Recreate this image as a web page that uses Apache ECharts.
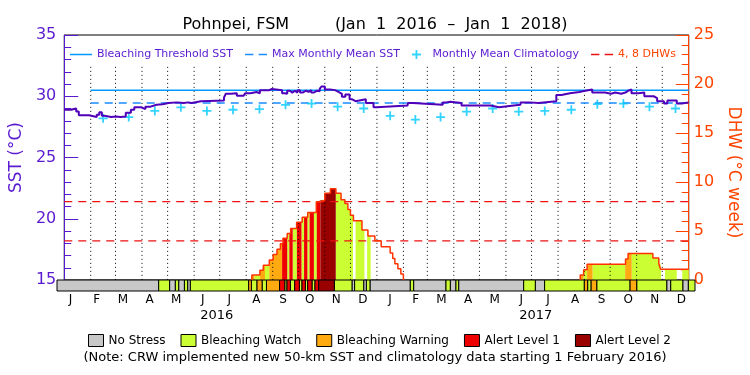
<!DOCTYPE html>
<html lang="en">
<head>
<meta charset="UTF-8">
<title>Pohnpei, FSM</title>
<script src="https://cdn.jsdelivr.net/npm/echarts@6/dist/echarts.min.js"></script>
<style>
  html, body { margin: 0; padding: 0; background: #fff; }
  #chart { width: 750px; height: 375px; }
</style>
</head>
<body>
<div id="chart"></div>
<script>
// x values are days counted from Jan 1 2016
var monthStarts = [0, 31, 60, 91, 121, 152, 182, 213, 244, 274, 305, 335, 366, 397, 425, 456, 486, 517, 547, 578, 609, 639, 670, 700, 731];
var monthLetters = ['J','F','M','A','M','J','J','A','S','O','N','D','J','F','M','A','M','J','J','A','S','O','N','D'];
var yearLabels = ['2016', '2017'];

// daily SST (step changes)
var sstDays = [0, 8, 14, 17, 29, 38, 41, 44, 47, 55, 60, 66, 72, 78, 82, 90, 92, 95, 101, 108, 115, 122, 132, 140, 145, 149, 151, 160, 187, 189, 195, 202, 210, 212, 218, 225, 229, 240, 243, 245, 255, 258, 261, 264, 267, 270, 273, 276, 279, 283, 286, 289, 292, 296, 299, 301, 305, 311, 317, 321, 325, 329, 334, 337, 341, 353, 362, 366, 402, 408, 443, 447, 452, 465, 499, 509, 526, 534, 545, 555, 576, 582, 592, 603, 607, 618, 633, 640, 645, 652, 657, 660, 664, 672, 679, 690, 694, 702, 706, 717, 723, 731];
var sstValues = [28.9, 29.0, 28.75, 28.45, 28.3, 28.5, 28.7, 28.4, 28.3, 28.35, 28.3, 28.35, 28.65, 28.9, 29.1, 29.15, 28.95, 29.15, 29.3, 29.35, 29.45, 29.5, 29.45, 29.5, 29.45, 29.3, 29.6, 29.65, 29.9, 30.2, 30.25, 30.05, 30.1, 30.25, 30.35, 30.25, 30.5, 30.6, 30.65, 30.5, 30.25, 30.2, 30.45, 30.3, 30.45, 30.3, 30.5, 30.3, 30.45, 30.35, 30.5, 30.3, 30.45, 30.4, 30.6, 30.8, 30.55, 30.5, 30.35, 30.2, 29.95, 30.15, 29.75, 29.6, 29.75, 29.45, 29.1, 29.25, 29.45, 29.3, 29.5, 29.55, 29.45, 29.25, 29.1, 29.25, 29.3, 29.5, 29.45, 29.6, 30.1, 30.25, 30.35, 30.4, 30.55, 30.3, 30.2, 30.3, 30.2, 30.3, 30.45, 30.55, 30.25, 30.3, 30.0, 29.85, 29.6, 29.4, 29.65, 29.4, 29.5, 29.5];

// monthly mean climatology, Feb 2016 .. Dec 2017
var climValues = [28.2, 28.3, 28.8, 29.1, 28.8, 28.9, 28.95, 29.3, 29.4, 29.15, 29.0, 28.4, 28.1, 28.3, 28.75, 29.0, 28.75, 28.8, 28.9, 29.35, 29.4, 29.15, 29.0];
var mmm = 29.45;
var threshold = 30.48;
var dhwLevels = [4, 8];

// degree heating weeks (step changes)
var dhwDays = [219.6, 229, 233, 240, 244.5, 249, 253, 256, 261, 265, 272, 278.5, 285, 295, 299, 305, 311.5, 318, 324, 328.5, 332, 335, 338.5, 348.5, 355.5, 363.6, 371, 381.5, 384.5, 387, 390.5, 394, 397, 604, 608, 612, 657, 660, 689, 696, 698];
var dhwValues = [0.5, 1.0, 1.5, 2.05, 2.6, 3.15, 3.7, 4.25, 4.75, 5.25, 5.9, 6.4, 6.9, 7.95, 8.15, 8.85, 9.3, 8.85, 8.2, 7.8, 7.2, 6.6, 6.05, 5.1, 4.5, 4.0, 3.4, 2.75, 2.2, 1.65, 1.15, 0.6, 0, 0.5, 1.05, 1.6, 2.15, 2.7, 2.25, 1.65, 1.1];

// bleaching alert status
var statusNames = ['No Stress', 'Bleaching Watch', 'Bleaching Warning', 'Alert Level 1', 'Alert Level 2'];
var statusColors = ['#c8c8c8', '#ccff33', '#ffaa11', '#ee0000', '#990000'];
var statusEdges = [0, 116.5, 129, 135.6, 139.4, 146, 149.7, 152.8, 219.6, 222.7, 229.2, 235, 240, 255, 261, 263.5, 267.4, 272.3, 277.7, 280.7, 284.6, 287.2, 292.2, 295.6, 299.8, 317.8, 338, 341, 351.4, 354.5, 358.6, 404.8, 408.6, 445.7, 450.6, 457.1, 460.2, 534.7, 548, 558.7, 604.2, 608, 612, 618.4, 656.6, 664.2, 698.6, 703.2, 717, 723.4, 731];
var statusLevel = [0,1,0,1,0,1,0,1,2,1,2,1,2,3,1,3,1,3,1,3,1,3,1,3,4,1,0,1,0,1,0,1,0,1,0,1,0,1,0,1,2,1,2,1,2,1,0,1,0,1];

var purple = '#5a1ad0';
var orange = '#ff4400';
var font = 'DejaVu Sans';

var chart = echarts.init(document.getElementById('chart'));

var monthMids = [];
for (var m = 0; m < 24; m++) monthMids.push((monthStarts[m] + monthStarts[m + 1]) / 2);
var yearMids = [(monthStarts[0] + monthStarts[12]) / 2, (monthStarts[12] + monthStarts[24]) / 2];

function dhwAt(d) {
  var v = 0;
  for (var i = 0; i < dhwDays.length; i++) if (dhwDays[i] <= d) v = dhwValues[i];
  return v;
}

var sstData = sstDays.map(function (d, i) { return [d, sstValues[i]]; });
var climData = climValues.map(function (v, i) { return [monthMids[i + 1], v]; });

// split the DHW curve into separate heat-stress episodes
var dhwEpisodes = [];
var cur = null;
for (var i = 0; i < dhwDays.length; i++) {
  if (!cur) {
    cur = [[dhwDays[i], 0]];
    dhwEpisodes.push(cur);
  }
  cur.push([dhwDays[i], dhwValues[i]]);
  if (dhwValues[i] === 0) cur = null;
}
if (cur) cur.push([731, dhwValues[dhwValues.length - 1]]);

var series = [];

statusNames.forEach(function (name, lv) {
  var segs = [];
  for (var i = 0; i < statusLevel.length; i++) {
    if (statusLevel[i] === lv) segs.push([statusEdges[i], statusEdges[i + 1]]);
  }
  // strip under the plot
  series.push({
    name: name,
    type: 'custom',
    xAxisIndex: 1,
    yAxisIndex: 2,
    itemStyle: { color: statusColors[lv] },
    encode: { x: [0, 1] },
    data: segs,
    z: 3,
    renderItem: function (params, api) {
      var p0 = api.coord([api.value(0), 0]);
      var p1 = api.coord([api.value(1), 1]);
      return {
        type: 'rect',
        shape: { x: p0[0], y: p1[1], width: p1[0] - p0[0], height: p0[1] - p1[1] },
        style: { fill: statusColors[lv], stroke: '#000', lineWidth: 1 }
      };
    }
  });
  // fill under the DHW curve
  if (lv > 0) {
    series.push({
      name: name,
      type: 'custom',
      xAxisIndex: 0,
      yAxisIndex: 1,
      itemStyle: { color: statusColors[lv] },
      encode: { x: [0, 1] },
      data: segs,
      z: 1,
      silent: true,
      renderItem: function (params, api) {
        var a = api.value(0), b = api.value(1);
        var v = dhwAt(a);
        var pts = [[a, 0], [a, v]];
        for (var k = 0; k < dhwDays.length; k++) {
          if (dhwDays[k] > a && dhwDays[k] < b) {
            pts.push([dhwDays[k], v]);
            v = dhwValues[k];
            pts.push([dhwDays[k], v]);
          }
        }
        pts.push([b, v]);
        pts.push([b, 0]);
        return {
          type: 'polygon',
          shape: { points: pts.map(function (p) { return api.coord(p); }) },
          style: { fill: statusColors[lv] }
        };
      }
    });
  }
});

// dotted month separators
series.push({
  type: 'custom',
  xAxisIndex: 0,
  yAxisIndex: 0,
  data: monthStarts.slice(1, 24),
  encode: { x: 0 },
  z: 2,
  silent: true,
  renderItem: function (params, api) {
    var top = api.coord([api.value(0), 32.4]);
    var bot = api.coord([api.value(0), 15]);
    return {
      type: 'line',
      shape: { x1: top[0], y1: top[1], x2: bot[0], y2: bot[1] },
      style: { stroke: '#000', lineWidth: 1, lineDash: [1, 3] }
    };
  }
});

dhwLevels.forEach(function (lvl) {
  series.push({
    name: '4, 8 DHWs',
    type: 'line',
    xAxisIndex: 0,
    yAxisIndex: 1,
    color: '#ee1111',
    symbol: 'none',
    z: 4,
    lineStyle: { width: 1.2, type: [8, 6] },
    data: [[0, lvl], [731, lvl]]
  });
});

dhwEpisodes.forEach(function (ep) {
  series.push({
    name: 'DHW',
    type: 'line',
    xAxisIndex: 0,
    yAxisIndex: 1,
    step: 'end',
    color: '#ff3300',
    symbol: 'none',
    z: 5,
    lineStyle: { width: 1.5 },
    data: ep
  });
});

series.push({
  name: 'Bleaching Threshold SST',
  type: 'line',
  xAxisIndex: 0,
  yAxisIndex: 0,
  color: '#0099ff',
  symbol: 'none',
  z: 6,
  lineStyle: { width: 1.5 },
  data: [[monthStarts[1], threshold], [731, threshold]]
});

series.push({
  name: 'Max Monthly Mean SST',
  type: 'line',
  xAxisIndex: 0,
  yAxisIndex: 0,
  color: '#1a8cff',
  symbol: 'none',
  z: 6,
  lineStyle: { width: 1.5, type: [8, 6] },
  data: [[monthStarts[1], mmm], [731, mmm]]
});

series.push({
  name: 'Monthly Mean Climatology',
  type: 'scatter',
  xAxisIndex: 0,
  yAxisIndex: 0,
  color: '#00c8ff',
  symbol: 'path://M4,0h2v4h4v2h-4v4h-2v-4h-4v-2h4z',
  symbolSize: 9,
  z: 7,
  data: climData
});

series.push({
  name: 'SST',
  type: 'line',
  xAxisIndex: 0,
  yAxisIndex: 0,
  step: 'end',
  color: '#5000b8',
  symbol: 'none',
  z: 8,
  lineStyle: { width: 2 },
  data: sstData
});

chart.setOption({
  animation: false,
  textStyle: { fontFamily: font },
  title: [{
    text: 'Pohnpei, FSM         (Jan  1  2016  \u2013  Jan  1  2018)',
    left: 'center',
    top: 12,
    textStyle: { fontSize: 16, fontWeight: 'normal', color: '#000', fontFamily: font }
  }, {
    text: '(Note: CRW implemented new 50-km SST and climatology data starting 1 February 2016)',
    left: 'center',
    top: 346,
    textStyle: { fontSize: 13, fontWeight: 'normal', color: '#000', fontFamily: font }
  }],
  legend: [{
    left: 65,
    top: 44,
    itemWidth: 22,
    itemHeight: 9,
    itemGap: 12,
    selectedMode: false,
    textStyle: { fontSize: 11, color: purple, fontFamily: font },
    data: [
      { name: 'Bleaching Threshold SST', icon: 'path://M0,0h22v1.5h-22z' },
      { name: 'Max Monthly Mean SST', icon: 'path://M0,0h8v1.5h-8z M13,0h8v1.5h-8z' },
      { name: 'Monthly Mean Climatology' },
      { name: '4, 8 DHWs', icon: 'path://M0,0h8v1.5h-8z M13,0h8v1.5h-8z', textStyle: { color: orange } }
    ]
  }, {
    left: 83,
    top: 329,
    itemWidth: 15,
    itemHeight: 12,
    itemGap: 15,
    icon: 'rect',
    selectedMode: false,
    itemStyle: { borderColor: '#000', borderWidth: 1 },
    textStyle: { fontSize: 12, color: '#000', fontFamily: font },
    data: statusNames
  }],
  grid: [
    { left: 57, right: 55, top: 35, height: 245, show: true, borderColor: '#000', borderWidth: 1, backgroundColor: 'transparent' },
    { left: 57, right: 55, top: 280, height: 11 }
  ],
  xAxis: [
    { gridIndex: 0, type: 'value', min: 0, max: 731, show: false },
    {
      gridIndex: 1, type: 'value', min: 0, max: 731,
      axisLine: { show: false }, axisTick: { show: false }, splitLine: { show: false },
      axisLabel: {
        customValues: monthMids,
        margin: 3,
        fontSize: 12,
        color: '#000',
        formatter: function (v) {
          var best = 0;
          for (var i = 0; i < monthMids.length; i++) if (Math.abs(monthMids[i] - v) < Math.abs(monthMids[best] - v)) best = i;
          return monthLetters[best];
        }
      }
    },
    {
      gridIndex: 1, type: 'value', min: 0, max: 731, position: 'bottom', offset: 0,
      axisLine: { show: false }, axisTick: { show: false }, splitLine: { show: false },
      axisLabel: {
        customValues: yearMids,
        margin: 18,
        fontSize: 13,
        color: '#000',
        formatter: function (v) { return v < 366 ? yearLabels[0] : yearLabels[1]; }
      }
    }
  ],
  yAxis: [
    {
      gridIndex: 0, type: 'value', position: 'left', min: 15, max: 35, interval: 5,
      name: 'SST (\u00b0C)', nameLocation: 'middle', nameGap: 31,
      nameTextStyle: { color: purple, fontSize: 17 },
      axisLine: { show: true, lineStyle: { color: purple, width: 1 } },
      axisTick: { show: true, inside: true, length: 14, lineStyle: { color: purple } },
      minorTick: { show: true, splitNumber: 5, length: 7, lineStyle: { color: purple } },
      splitLine: { show: false },
      axisLabel: { color: purple, fontSize: 16, margin: 8 }
    },
    {
      gridIndex: 0, type: 'value', position: 'right', min: 0, max: 25, interval: 5,
      name: 'DHW (\u00b0C week)', nameLocation: 'middle', nameGap: 30, nameRotate: -90,
      nameTextStyle: { color: orange, fontSize: 17, padding: [0, 0, 0, 30] },
      axisLine: { show: true, lineStyle: { color: orange, width: 1 } },
      axisTick: { show: true, inside: true, length: 13, lineStyle: { color: orange } },
      minorTick: { show: true, splitNumber: 5, length: 7, lineStyle: { color: orange } },
      splitLine: { show: false },
      axisLabel: { color: orange, fontSize: 16, margin: 5 }
    },
    { gridIndex: 1, type: 'value', min: 0, max: 1, show: false }
  ],
  series: series
});
</script>
</body>
</html>
